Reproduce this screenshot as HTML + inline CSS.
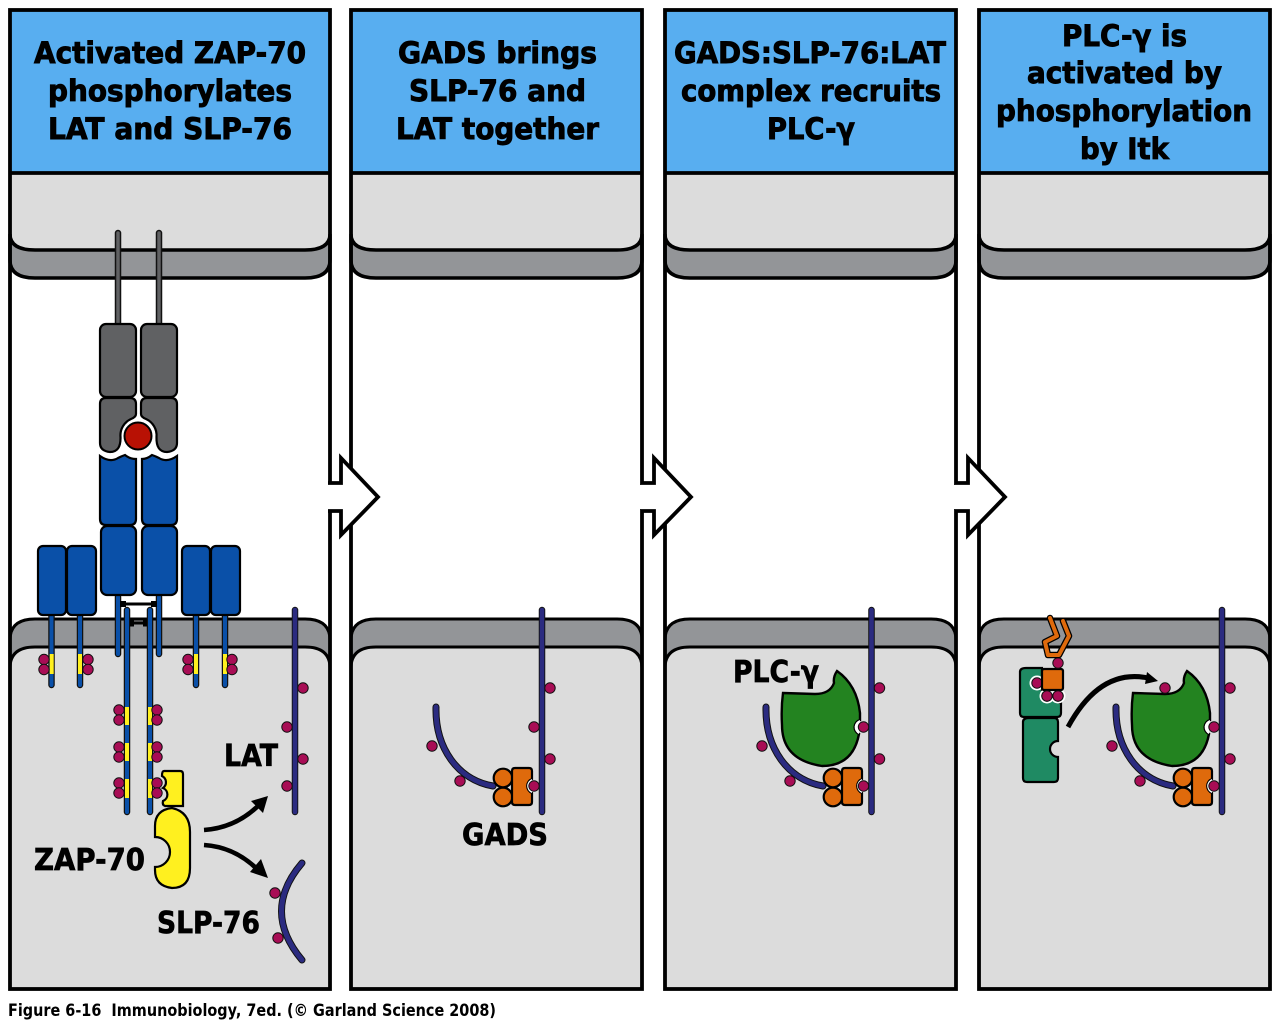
<!DOCTYPE html>
<html><head><meta charset="utf-8"><style>
html,body{margin:0;padding:0;background:#fff;width:1279px;height:1024px;overflow:hidden}
svg{display:block}
text{font-family:"DejaVu Sans","Liberation Sans",sans-serif;font-weight:bold;fill:#000}
.h{font-size:29px;stroke:#000;stroke-width:.9px}
.l{font-size:30px;stroke:#000;stroke-width:.7px}
</style></head><body>
<svg width="1279" height="1024" viewBox="0 0 1279 1024" xmlns="http://www.w3.org/2000/svg">
<defs>
<g id="dot"><circle r="5.2" fill="#a80d55" stroke="#111" stroke-width="1"/></g>
<g id="hdot"><circle r="7.5" fill="#fff"/><circle r="5.2" fill="#a80d55" stroke="#111" stroke-width="1"/></g>
<g id="lat">
<line x1="0" y1="610" x2="0" y2="812" stroke="#111" stroke-width="6.5" stroke-linecap="round"/>
<line x1="0" y1="610" x2="0" y2="812" stroke="#2b2b80" stroke-width="4.6" stroke-linecap="round"/>
<use href="#dot" x="8" y="688"/><use href="#dot" x="-8" y="727"/><use href="#dot" x="8" y="759"/><use href="#dot" x="-8" y="786"/>
</g>
<g id="slp">
<path d="M436 707C435 748 458 780 493 786" fill="none" stroke="#111" stroke-width="7" stroke-linecap="round"/>
<path d="M436 707C435 748 458 780 493 786" fill="none" stroke="#2b2b80" stroke-width="5" stroke-linecap="round"/>
<use href="#dot" x="432" y="746"/><use href="#dot" x="460" y="781"/>
</g>
<g id="gads" stroke="#000" stroke-width="2.2" fill="#df6a0c">
<circle cx="503" cy="778" r="9.3"/><circle cx="503" cy="797" r="9.3"/>
<path d="M515 768H529Q532 768 532 771V779A7.5 7.5 0 0 0 532 793V802Q532 805 529 805H515Q512 805 512 802V771Q512 768 515 768Z"/>
<path d="M532 779A7.5 7.5 0 0 0 532 793Z" fill="#fff" stroke="none"/>
</g>
<g id="plc">
<path d="M783 693L815 694Q830 694 834 683Q833 677 837 671Q857 685 860 713V720A7.5 7.5 0 0 0 859 734Q853 766 822 766Q782 760 782 725Q781 708 783 693Z" fill="#238320" stroke="#000" stroke-width="2.4"/>
<path d="M860 720A7.5 7.5 0 0 0 859 734Z" fill="#fff"/>
</g>
</defs>

<!-- Panel 1 -->
<rect x="10" y="10" width="320" height="979" fill="#fff"/>
<rect x="10" y="10" width="320" height="163" fill="#58aef0"/>
<path d="M10 173H330V232Q330 250 305 250H35Q10 250 10 232Z" fill="#dcdcdc"/>
<path d="M10 234Q10 250 35 250H305Q330 250 330 234V260Q330 278 305 278H35Q10 278 10 260Z" fill="#939598" stroke="#000" stroke-width="3.5"/>
<path d="M10 640Q10 619 35 619H305Q330 619 330 640V680H10Z" fill="#939598" stroke="#000" stroke-width="3"/>
<path d="M10 668Q10 647 35 647H305Q330 647 330 668V989H10Z" fill="#dcdcdc" stroke="#000" stroke-width="3"/>
<line x1="10" y1="173" x2="330" y2="173" stroke="#000" stroke-width="3.8"/>
<rect x="10" y="10" width="320" height="979" fill="none" stroke="#000" stroke-width="3.8"/>

<!-- Panel 2 -->
<rect x="351" y="10" width="291" height="979" fill="#fff"/>
<rect x="351" y="10" width="291" height="163" fill="#58aef0"/>
<path d="M351 173H642V232Q642 250 617 250H376Q351 250 351 232Z" fill="#dcdcdc"/>
<path d="M351 234Q351 250 376 250H617Q642 250 642 234V260Q642 278 617 278H376Q351 278 351 260Z" fill="#939598" stroke="#000" stroke-width="3.5"/>
<path d="M351 640Q351 619 376 619H617Q642 619 642 640V680H351Z" fill="#939598" stroke="#000" stroke-width="3"/>
<path d="M351 668Q351 647 376 647H617Q642 647 642 668V989H351Z" fill="#dcdcdc" stroke="#000" stroke-width="3"/>
<line x1="351" y1="173" x2="642" y2="173" stroke="#000" stroke-width="3.8"/>
<rect x="351" y="10" width="291" height="979" fill="none" stroke="#000" stroke-width="3.8"/>

<!-- Panel 3 -->
<rect x="665" y="10" width="291" height="979" fill="#fff"/>
<rect x="665" y="10" width="291" height="163" fill="#58aef0"/>
<path d="M665 173H956V232Q956 250 931 250H690Q665 250 665 232Z" fill="#dcdcdc"/>
<path d="M665 234Q665 250 690 250H931Q956 250 956 234V260Q956 278 931 278H690Q665 278 665 260Z" fill="#939598" stroke="#000" stroke-width="3.5"/>
<path d="M665 640Q665 619 690 619H931Q956 619 956 640V680H665Z" fill="#939598" stroke="#000" stroke-width="3"/>
<path d="M665 668Q665 647 690 647H931Q956 647 956 668V989H665Z" fill="#dcdcdc" stroke="#000" stroke-width="3"/>
<line x1="665" y1="173" x2="956" y2="173" stroke="#000" stroke-width="3.8"/>
<rect x="665" y="10" width="291" height="979" fill="none" stroke="#000" stroke-width="3.8"/>

<!-- Panel 4 -->
<rect x="979" y="10" width="291" height="979" fill="#fff"/>
<rect x="979" y="10" width="291" height="163" fill="#58aef0"/>
<path d="M979 173H1270V232Q1270 250 1245 250H1004Q979 250 979 232Z" fill="#dcdcdc"/>
<path d="M979 234Q979 250 1004 250H1245Q1270 250 1270 234V260Q1270 278 1245 278H1004Q979 278 979 260Z" fill="#939598" stroke="#000" stroke-width="3.5"/>
<path d="M979 640Q979 619 1004 619H1245Q1270 619 1270 640V680H979Z" fill="#939598" stroke="#000" stroke-width="3"/>
<path d="M979 668Q979 647 1004 647H1245Q1270 647 1270 668V989H979Z" fill="#dcdcdc" stroke="#000" stroke-width="3"/>
<line x1="979" y1="173" x2="1270" y2="173" stroke="#000" stroke-width="3.8"/>
<rect x="979" y="10" width="291" height="979" fill="none" stroke="#000" stroke-width="3.8"/>

<!-- Between-panel arrows -->
<g fill="#fff" stroke="#000" stroke-width="3.8">
<path d="M328 483H341V458L378 497L341 535V511H328"/>
<path d="M641 483H654V458L691 497L654 535V511H641"/>
<path d="M955 483H968V458L1005 497L968 535V511H955"/>
</g>
<g fill="#fff">
<rect x="326" y="485" width="13" height="24"/>
<rect x="639" y="485" width="13" height="24"/>
<rect x="953" y="485" width="13" height="24"/>
</g>

<!-- Header text -->
<text class="h" x="34" y="63" textLength="272" lengthAdjust="spacingAndGlyphs">Activated ZAP-70</text>
<text class="h" x="48" y="101" textLength="244" lengthAdjust="spacingAndGlyphs">phosphorylates</text>
<text class="h" x="48" y="139" textLength="244" lengthAdjust="spacingAndGlyphs">LAT and SLP-76</text>
<text class="h" x="398" y="63" textLength="199" lengthAdjust="spacingAndGlyphs">GADS brings</text>
<text class="h" x="409" y="101" textLength="177" lengthAdjust="spacingAndGlyphs">SLP-76 and</text>
<text class="h" x="396" y="139" textLength="203" lengthAdjust="spacingAndGlyphs">LAT together</text>
<text class="h" x="674" y="63" textLength="272" lengthAdjust="spacingAndGlyphs">GADS:SLP-76:LAT</text>
<text class="h" x="681" y="101" textLength="260" lengthAdjust="spacingAndGlyphs">complex recruits</text>
<text class="h" x="767" y="139" textLength="88" lengthAdjust="spacingAndGlyphs">PLC-γ</text>
<text class="h" x="1062" y="46" textLength="125" lengthAdjust="spacingAndGlyphs">PLC-γ is</text>
<text class="h" x="1027" y="83" textLength="195" lengthAdjust="spacingAndGlyphs">activated by</text>
<text class="h" x="996" y="121" textLength="256" lengthAdjust="spacingAndGlyphs">phosphorylation</text>
<text class="h" x="1080" y="159" textLength="89" lengthAdjust="spacingAndGlyphs">by Itk</text>

<!-- Receptor: stalks -->
<g stroke-linecap="round">
<line x1="118" y1="233" x2="118" y2="326" stroke="#111" stroke-width="6.5"/>
<line x1="118" y1="233" x2="118" y2="326" stroke="#606163" stroke-width="3.5"/>
<line x1="159" y1="233" x2="159" y2="326" stroke="#111" stroke-width="6.5"/>
<line x1="159" y1="233" x2="159" y2="326" stroke="#606163" stroke-width="3.5"/>
</g>
<!-- tails -->
<g stroke-linecap="round" fill="none">
<path stroke="#111" stroke-width="6.5" d="M118 597V654M159 597V654M51.5 612V685M80 612V685M196 612V685M225 612V685"/>
<path stroke="#0a50a8" stroke-width="4" d="M118 597V654M159 597V654M51.5 612V685M80 612V685M196 612V685M225 612V685"/>
</g>
<path d="M120 604H157" stroke="#000" stroke-width="3"/>
<path d="M120 604H126M151 604H157" stroke="#000" stroke-width="6"/>
<g stroke-linecap="round" fill="none">
<path stroke="#111" stroke-width="6.5" d="M127 610V812M150 610V812"/>
<path stroke="#0a50a8" stroke-width="4" d="M127 610V812M150 610V812"/>
</g>
<path d="M130 623H147" stroke="#000" stroke-width="3"/>
<path d="M130 623H134M143 623H147" stroke="#000" stroke-width="7"/>
<g stroke="#000" stroke-width="2.2" fill="#606163">
<rect x="100" y="324" width="36" height="73" rx="6"/>
<rect x="141" y="324" width="36" height="73" rx="6"/>
<path d="M106 398H130Q136 398 136 404V414Q136 417 131 419A18 18 0 0 0 120.5 437Q121 452 110 452Q100 451 100 443V404Q100 398 106 398Z"/>
<path d="M171 398H147Q141 398 141 404V414Q141 417 146 419A18 18 0 0 1 156.5 437Q156 452 167 452Q177 451 177 443V404Q177 398 171 398Z"/>
</g>
<circle cx="138" cy="436" r="13.5" fill="#b81104" stroke="#000" stroke-width="2"/>
<g stroke="#000" stroke-width="2.2" fill="#0a50a8">
<path d="M100 456Q110 463 118 458Q122 456 125 455Q130 459 136 459V519Q136 525 130 525H106Q100 525 100 519Z"/>
<path d="M177 456Q167 463 159 458Q155 456 152 455Q147 459 142 459V519Q142 525 148 525H171Q177 525 177 519Z"/>
<rect x="101" y="526" width="35" height="69" rx="6"/>
<rect x="142" y="526" width="35" height="69" rx="6"/>
<rect x="38" y="546" width="28" height="69" rx="5"/>
<rect x="67" y="546" width="29" height="69" rx="5"/>
<rect x="182" y="546" width="28" height="69" rx="5"/>
<rect x="211" y="546" width="29" height="69" rx="5"/>
</g>
<g fill="#fff01f">
<rect x="49.7" y="654" width="4" height="20"/><rect x="78" y="654" width="4" height="20"/>
<rect x="194" y="654" width="4" height="20"/><rect x="223" y="654" width="4" height="20"/>
<rect x="125" y="707" width="4" height="18"/><rect x="148" y="707" width="4" height="18"/>
<rect x="125" y="743" width="4" height="18"/><rect x="148" y="743" width="4" height="18"/>
<rect x="125" y="779" width="4" height="19"/><rect x="148" y="779" width="4" height="19"/>
</g>
<g>
<use href="#dot" x="44" y="659.5"/><use href="#dot" x="44" y="669.5"/>
<use href="#dot" x="88" y="659.5"/><use href="#dot" x="88" y="669.5"/>
<use href="#dot" x="188" y="659.5"/><use href="#dot" x="188" y="669.5"/>
<use href="#dot" x="232" y="659.5"/><use href="#dot" x="232" y="669.5"/>
<use href="#dot" x="119" y="710"/><use href="#dot" x="119" y="720"/>
<use href="#dot" x="157" y="710"/><use href="#dot" x="157" y="720"/>
<use href="#dot" x="119" y="747"/><use href="#dot" x="119" y="757"/>
<use href="#dot" x="157" y="747"/><use href="#dot" x="157" y="757"/>
<use href="#dot" x="119" y="783"/><use href="#dot" x="119" y="793"/>
</g>
<!-- ZAP-70 -->
<path d="M164 771H180Q183 771 183 774V806H165Q162 805 163 801A7 7 0 0 0 163 788A7 7 0 0 0 162 776Q162 771 164 771Z" fill="#fff01f" stroke="#000" stroke-width="2.2"/>
<use href="#dot" x="157" y="783"/><use href="#dot" x="157" y="793"/>
<path d="M172 808Q190 812 190 832V868Q190 888 172 888Q155 886 155 870V867A15 15 0 0 0 155 837V826Q155 810 172 808Z" fill="#fff01f" stroke="#000" stroke-width="2.2"/>
<!-- ZAP arrows -->
<g fill="none" stroke="#000" stroke-width="4.6">
<path d="M204 830Q235 828 258 806"/>
<path d="M204 845Q235 847 258 870"/>
</g>
<path d="M268 796L263 813L251 801Z" fill="#000"/>
<path d="M268 878L250 872L261 859Z" fill="#000"/>
<!-- SLP-76 free -->
<path d="M302 863Q261 911 302 960" fill="none" stroke="#111" stroke-width="7" stroke-linecap="round"/>
<path d="M302 863Q261 911 302 960" fill="none" stroke="#2b2b80" stroke-width="5" stroke-linecap="round"/>
<use href="#dot" x="275" y="893"/><use href="#dot" x="278" y="938"/>
<!-- P2 -->
<use href="#slp"/><use href="#gads"/>
<!-- P3 -->
<use href="#plc"/>
<use href="#slp" x="330"/><use href="#gads" x="330"/>
<!-- P4 -->
<use href="#plc" x="350"/>
<use href="#slp" x="680"/><use href="#gads" x="680"/>
<!-- LATs -->
<use href="#lat" x="295"/>
<use href="#lat" x="542"/>
<use href="#lat" x="871.5"/>
<use href="#lat" x="1222"/>
<use href="#dot" x="1165" y="688"/>
<path d="M1068 727Q1100 668 1148 678" fill="none" stroke="#000" stroke-width="5"/>
<path d="M1158 681L1145 684L1147 672Z" fill="#000"/>
<!-- Itk -->
<path d="M1029 718H1054Q1058 718 1058 722V741A8 8 0 0 0 1058 757V778Q1058 782 1054 782H1027Q1023 782 1023 778V722Q1023 718 1029 718Z" fill="#1f8a63" stroke="#000" stroke-width="2.2"/>
<path d="M1026 668H1042V690H1046Q1052 702 1061 703V713Q1061 717 1057 717H1024Q1020 717 1020 713V672Q1020 668 1026 668Z" fill="#1f8a63" stroke="#000" stroke-width="2.2"/>
<use href="#hdot" x="1037" y="683"/>
<use href="#hdot" x="1047" y="696"/><use href="#hdot" x="1058" y="696"/>
<rect x="1042" y="669" width="21" height="21" rx="2" fill="#df6a0c" stroke="#000" stroke-width="2.2"/>
<use href="#dot" x="1047" y="696"/><use href="#dot" x="1058" y="696"/>
<use href="#dot" x="1058" y="663"/>
<path d="M1050 618L1057 636L1045 642L1048 655H1059L1069 636L1063 621" fill="none" stroke="#000" stroke-width="6.5" stroke-linejoin="round" stroke-linecap="round"/>
<path d="M1050 618L1057 636L1045 642L1048 655H1059L1069 636L1063 621" fill="none" stroke="#df6a0c" stroke-width="4" stroke-linejoin="round" stroke-linecap="round"/>

<!-- Labels -->
<text class="l" x="224" y="766" textLength="54" lengthAdjust="spacingAndGlyphs">LAT</text>
<text class="l" x="34" y="870" textLength="111" lengthAdjust="spacingAndGlyphs">ZAP-70</text>
<text class="l" x="157" y="933" textLength="103" lengthAdjust="spacingAndGlyphs">SLP-76</text>
<text class="l" x="462" y="845" textLength="86" lengthAdjust="spacingAndGlyphs">GADS</text>
<text class="l" x="733" y="682" textLength="86" lengthAdjust="spacingAndGlyphs">PLC-γ</text>
<text x="8" y="1016" font-size="16.5" textLength="488" lengthAdjust="spacingAndGlyphs">Figure 6-16&#160;&#160;Immunobiology, 7ed. (© Garland Science 2008)</text>
</svg>
</body></html>
